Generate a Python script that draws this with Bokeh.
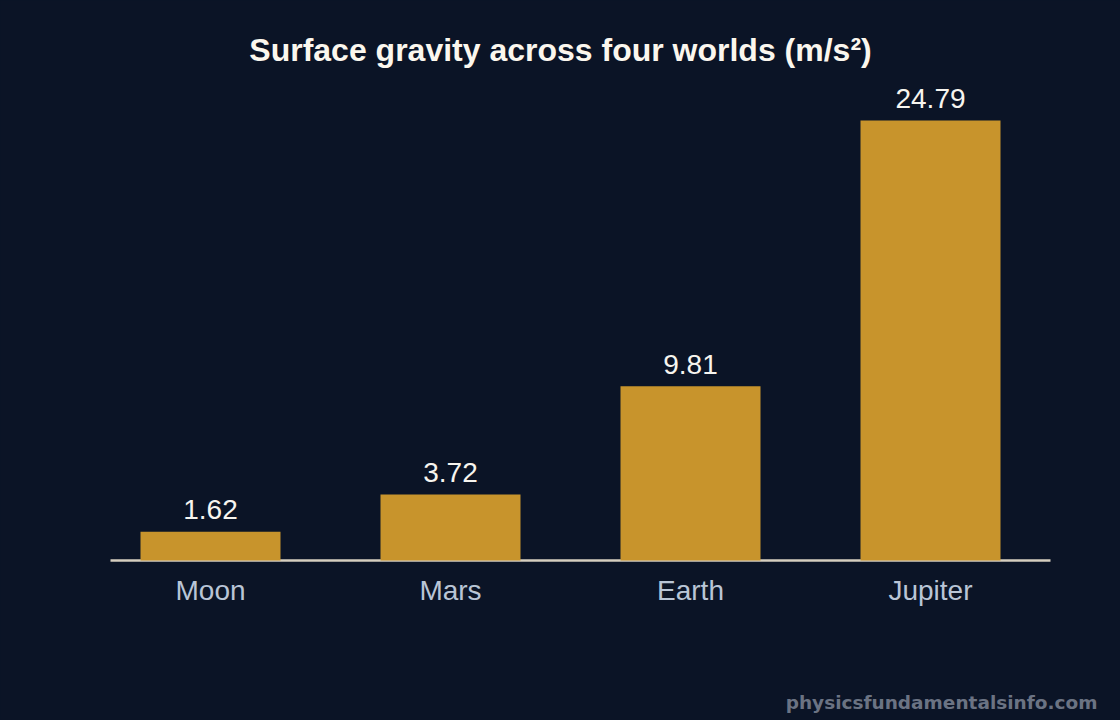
from bokeh.plotting import figure
from bokeh.models import Range1d, Label, ColumnDataSource
from bokeh.embed import file_html
from bokeh.resources import INLINE
from bokeh.core.properties import value

planets = ["Moon", "Mars", "Earth", "Jupiter"]
gravity = [1.62, 3.72, 9.81, 24.79]
labels = ["1.62", "3.72", "9.81", "24.79"]
title_text = "Surface gravity across four worlds (m/s\u00b2)"
credit = "physicsfundamentalsinfo.com"

BG = "#0b1426"
BAR = "#c8942c"

W, H = 1120, 720
PX = 17.75      # pixels per unit of gravity
SLOT = 240.0    # pixels per category
X0, Y0 = 210.0, 560.0   # canvas position of first category centre / zero line

xs = list(range(len(planets)))
lab_y = [g + 22 / PX for g in gravity]
src = ColumnDataSource(dict(x=xs, g=gravity, lab=labels, ly=lab_y, name=planets,
                            ny=[-30 / PX] * len(planets)))

p = figure(width=W, height=H, output_backend="svg", toolbar_location=None,
           x_range=Range1d(-X0 / SLOT, (W - X0) / SLOT),
           y_range=Range1d(-(H - Y0) / PX, Y0 / PX),
           x_axis_location=None, y_axis_location=None,
           min_border=0)
p.background_fill_color = BG
p.border_fill_color = BG
p.outline_line_color = None
p.xgrid.visible = False
p.ygrid.visible = False

p.segment(x0=[(110 - X0) / SLOT], y0=[0], x1=[(1050 - X0) / SLOT], y1=[0],
          line_color="#d6cebf", line_width=2.5)
p.vbar(x="x", top="g", bottom=0, width=140 / SLOT, source=src, fill_color=BAR, line_color=None)
p.text(x="x", y="ly", text="lab", source=src, text_align="center", text_baseline="alphabetic",
       text_color="#f7f5ef", text_font=value("Liberation Sans"), text_font_size="28px")
p.text(x="x", y="ny", text="name", source=src, text_align="center", text_baseline="alphabetic",
       text_color="#b9c5d6", text_font=value("Liberation Sans"), text_font_size="28px")

p.add_layout(Label(x=(560 - X0) / SLOT, y=(Y0 - 49) / PX, text=title_text, text_align="center",
                   text_baseline="alphabetic", text_font="Liberation Sans",
                   text_font_style="bold", text_font_size="32px", text_color="#fbf7ee"))
p.add_layout(Label(x=(1097 - X0) / SLOT, y=(Y0 - 702) / PX, text=credit, text_align="right",
                   text_baseline="alphabetic", text_font="DejaVu Sans",
                   text_font_style="bold", text_font_size="18.5px", text_color="#6b7383"))

html = file_html(p, INLINE)
html = html.replace("<head>", "<head><style>html,body{background:%s;}</style>" % BG, 1)
open("out.html", "w").write(html)
